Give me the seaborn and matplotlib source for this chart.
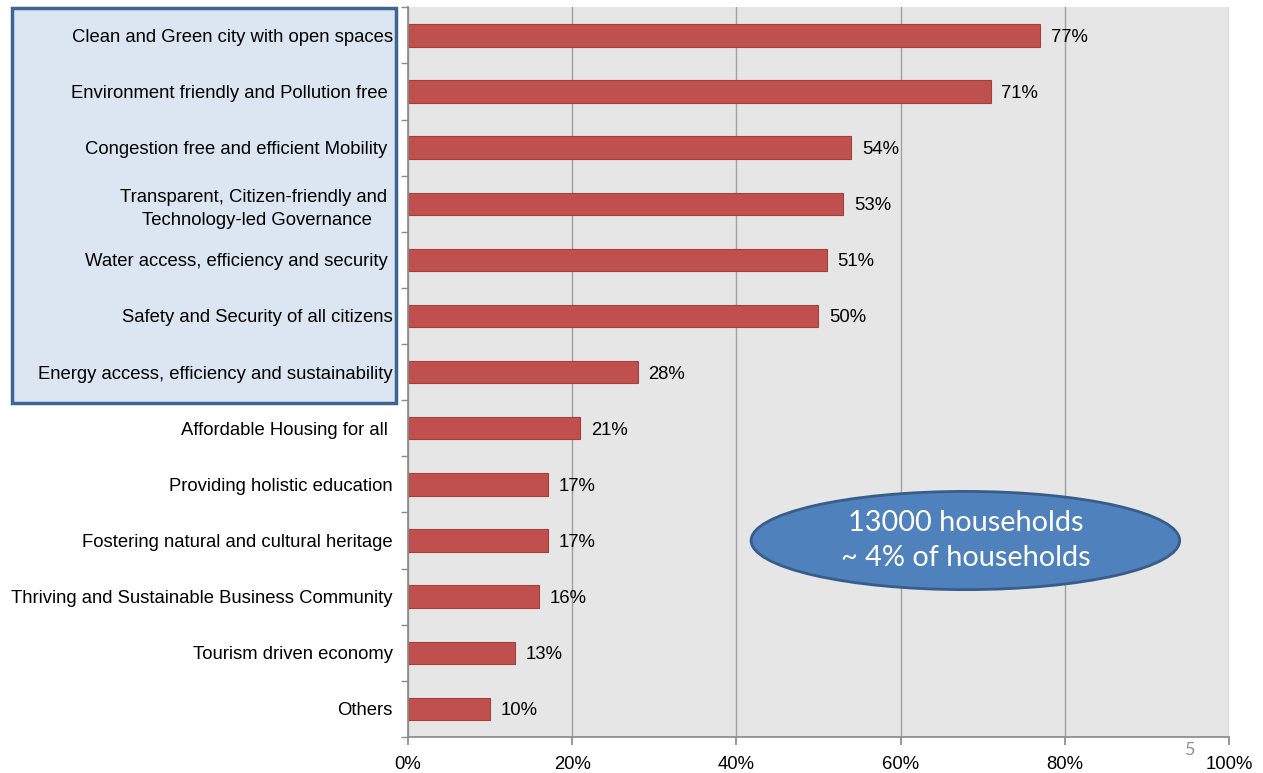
import numpy as np
import pandas as pd
import seaborn as sns
import matplotlib.pyplot as plt
from matplotlib.patches import Ellipse, FancyBboxPatch

# Survey results: share of households choosing each priority
categories = [
    "Clean and Green city with open spaces",
    "Environment friendly and Pollution free ",
    "Congestion free and efficient Mobility ",
    "Transparent, Citizen-friendly and \nTechnology-led Governance",
    "Water access, efficiency and security ",
    "Safety and Security of all citizens",
    "Energy access, efficiency and sustainability",
    "Affordable Housing for all ",
    "Providing holistic education",
    "Fostering natural and cultural heritage",
    "Thriving and Sustainable Business Community",
    "Tourism driven economy",
    "Others",
]
values = [77, 71, 54, 53, 51, 50, 28, 21, 17, 17, 16, 13, 10]
xticks = [0, 20, 40, 60, 80, 100]
note_lines = ["13000 households", "~ 4% of households"]

df = pd.DataFrame({"category": categories, "pct": values})

sns.set_theme(style="white")
plt.rcParams["font.family"] = ["Liberation Sans", "DejaVu Sans"]

fs = 13.3  # label font size

fig = plt.figure(figsize=(12.63, 7.73), dpi=100)
ax = fig.add_axes([0.323, 0.0466, 0.650, 0.944])

# highlighted box behind the top 7 labels (figure coords)
box = FancyBboxPatch((12 / 1263, 1 - 403 / 773), (396 - 12) / 1263, (403 - 8) / 773,
                     boxstyle="square,pad=0", transform=fig.transFigure,
                     facecolor="#dce6f2", edgecolor="#3d6594", linewidth=2.5, zorder=-1)
fig.patches.append(box)

sns.barplot(data=df, x="pct", y="category", orient="h", color="#c0504d",
            saturation=1, width=0.4, edgecolor="#a33f3c", linewidth=0.8, ax=ax)

ax.set_facecolor("#e6e6e6")
ax.set_xlim(0, 100)
ax.set_ylim(len(categories) - 0.5, -0.5)
ax.set_xticks(xticks)
ax.set_xticklabels([f"{t}%" for t in xticks], fontsize=fs, color="black")
ax.set_xlabel("")
ax.set_ylabel("")
ax.xaxis.grid(True, color="#a0a0a0", linewidth=1)
ax.set_axisbelow(True)

for lbl in ax.get_yticklabels():
    lbl.set_fontsize(fs)
    lbl.set_color("black")
    lbl.set_multialignment("center")
    lbl.set_linespacing(1.45)
ax.tick_params(axis="y", which="major", length=0, pad=11)
ax.set_yticks(np.arange(-0.5, len(categories), 1), minor=True)
ax.tick_params(axis="y", which="minor", length=5, color="#8c8c8c", direction="out", left=True)
ax.tick_params(axis="x", which="major", length=6, color="#8c8c8c", direction="out", bottom=True, pad=8)

for side in ["left", "bottom"]:
    ax.spines[side].set_color("#8c8c8c")
ax.spines["top"].set_visible(False)
ax.spines["right"].set_visible(False)

for i, v in enumerate(values):
    ax.text(v + 1.3, i, f"{v}%", va="center_baseline", ha="left", fontsize=fs, color="black")

ell = Ellipse((67.9, 9.0), 52.2, 1.75, facecolor="#4f81bd", edgecolor="#385d8a",
              linewidth=2, zorder=5)
ax.add_patch(ell)
ax.text(67.9, 9.0, "\n".join(note_lines), ha="center", va="center", color="white",
        fontsize=20.8, family=["Lato", "DejaVu Sans"], linespacing=1.45, zorder=6)

fig.text(1190 / 1263, 1 - 750 / 773, "5", color="#909090", fontsize=13,
         ha="center", va="center", family=["Lato", "DejaVu Sans"])

fig.savefig("out.png", dpi=100)
